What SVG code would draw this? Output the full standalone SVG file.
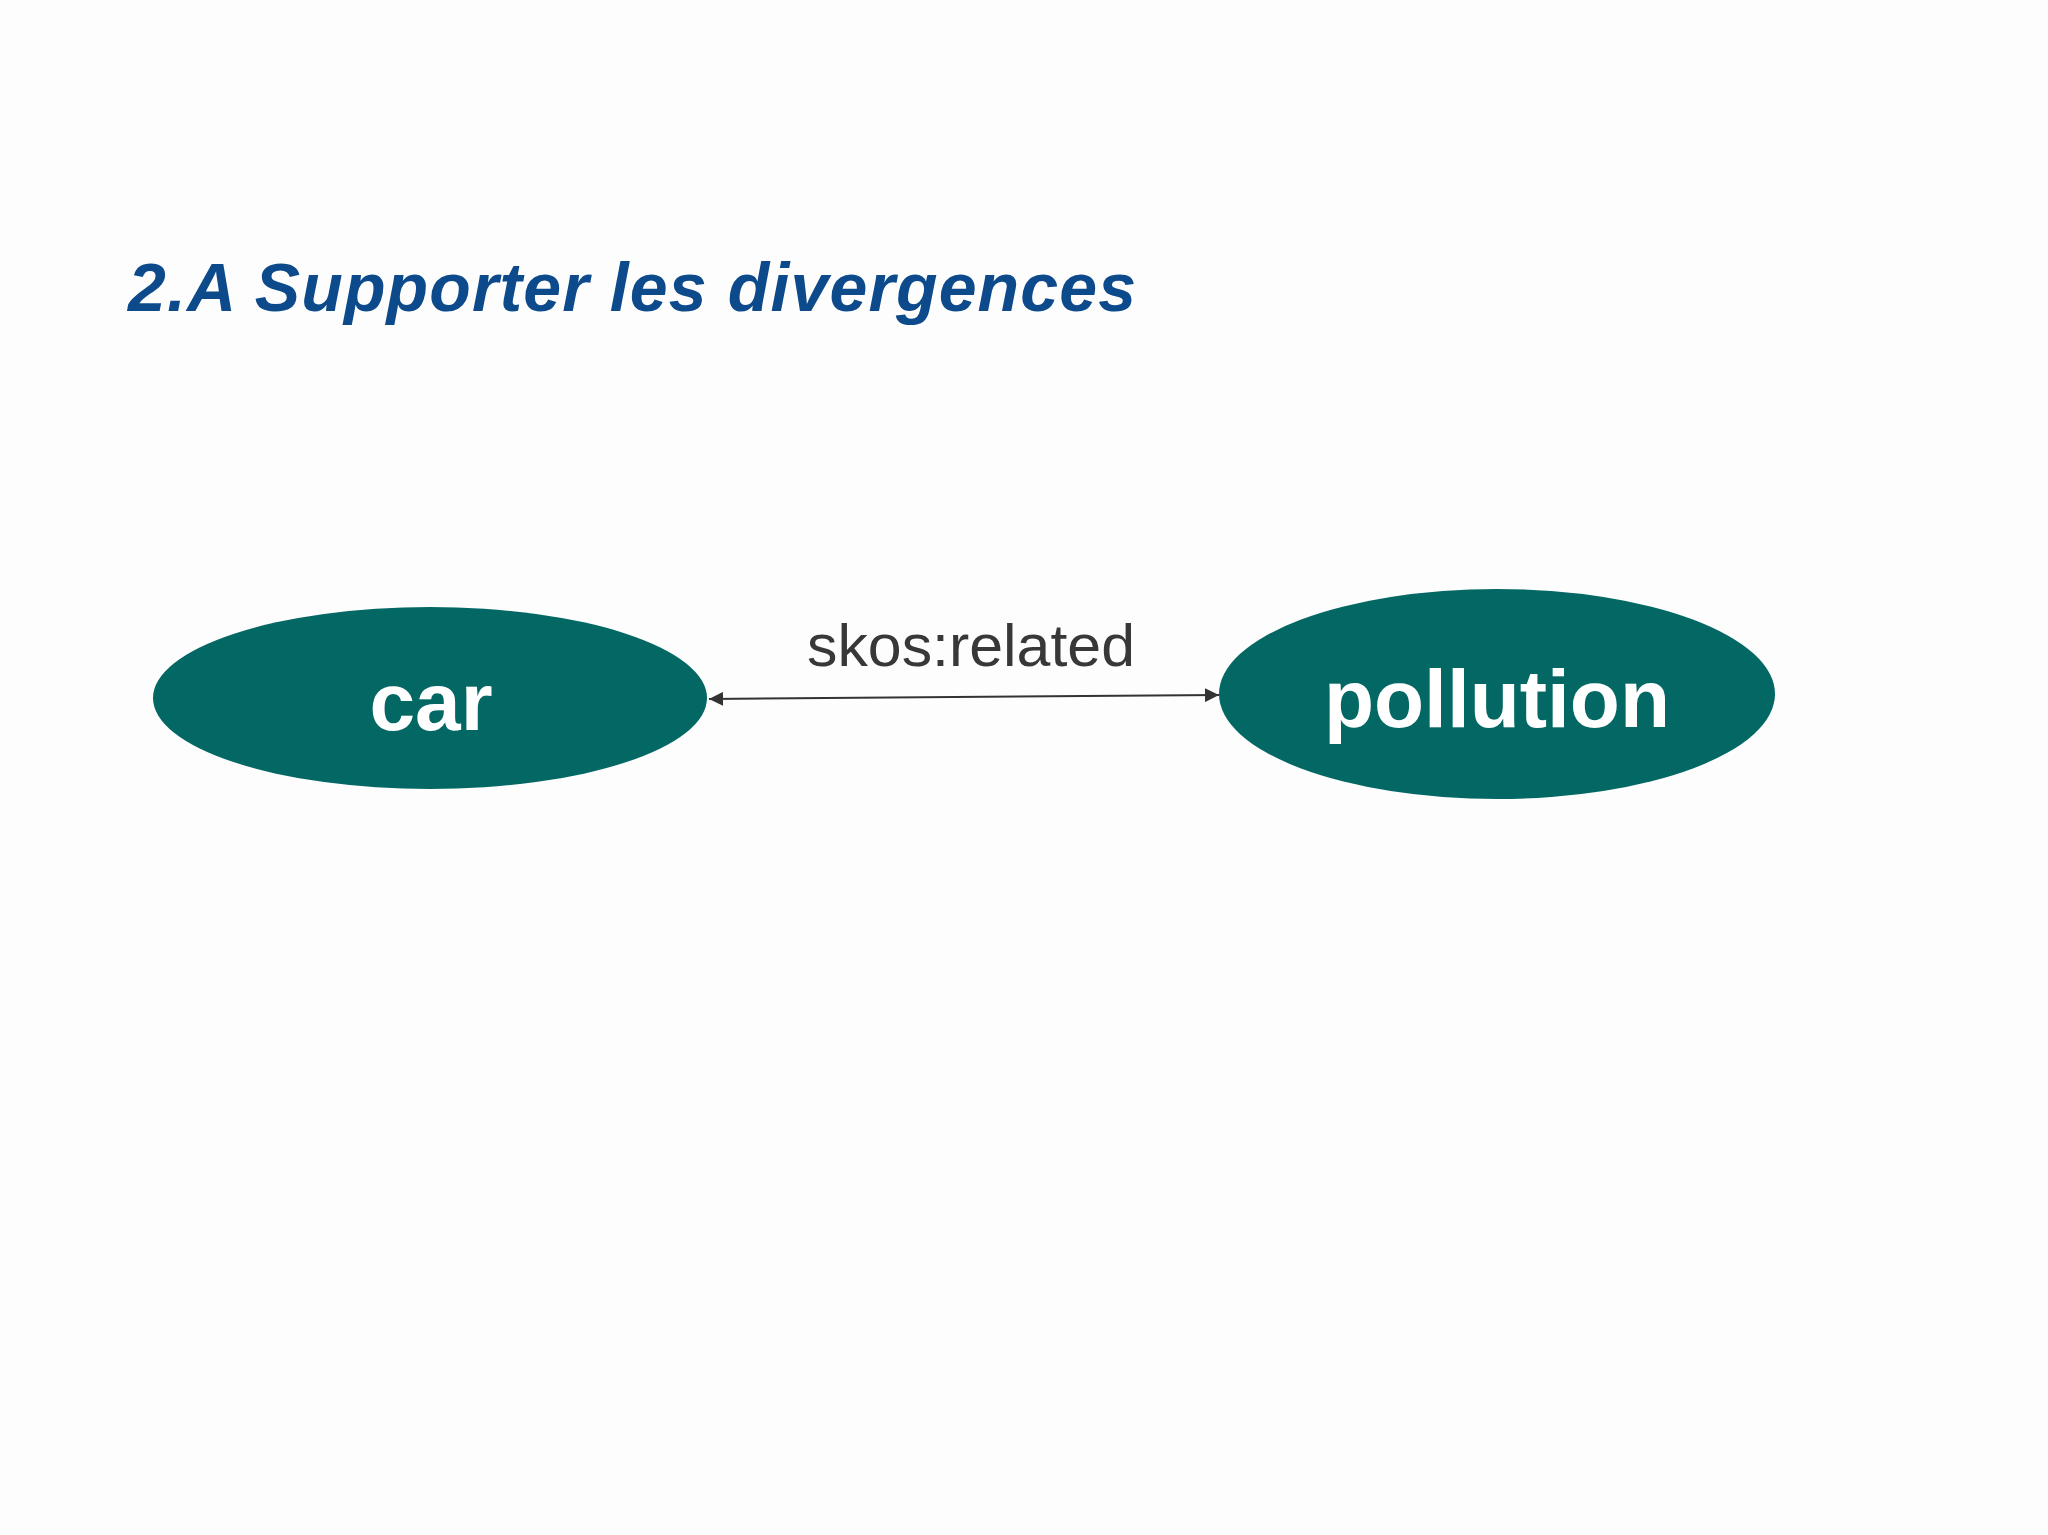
<svg xmlns="http://www.w3.org/2000/svg" width="2048" height="1535" viewBox="0 0 2048 1535">
<style>
.node{fill:#036864}
.nlabel{font-family:"Liberation Sans",Arial,sans-serif;font-weight:bold;fill:#ffffff;text-anchor:middle}
.edge{stroke:#333333;stroke-width:2;fill:none}
.elabel{font-family:"Liberation Sans",Arial,sans-serif;fill:#383838}
.title{font-family:"Liberation Sans",Arial,sans-serif;font-weight:bold;font-style:italic;fill:#0d4a8c}
</style>
<defs>
<marker id="arr" viewBox="0 0 10 10" refX="10" refY="5" markerWidth="7" markerHeight="7" markerUnits="strokeWidth" orient="auto-start-reverse">
<path d="M0,0 L10,5 L0,10 Z" fill="#333333"/>
</marker>
</defs>
<rect width="2048" height="1535" fill="#fdfdfd"/>
<text class="title" x="128" y="311" font-size="68" textLength="1008" lengthAdjust="spacing">2.A Supporter les divergences</text>
<g id="connectors">
<line class="edge" x1="709" y1="699" x2="1219" y2="695" marker-start="url(#arr)" marker-end="url(#arr)"/>
<text class="elabel" x="807" y="666" font-size="60" textLength="328" lengthAdjust="spacingAndGlyphs">skos:related</text>
</g>
<g id="node-car">
<ellipse class="node" cx="430" cy="698" rx="277" ry="91"/>
<text class="nlabel" x="431" y="730" font-size="82">car</text>
</g>
<g id="node-pollution">
<ellipse class="node" cx="1497" cy="694" rx="278" ry="105"/>
<text class="nlabel" x="1497" y="727" font-size="82">pollution</text>
</g>
</svg>
